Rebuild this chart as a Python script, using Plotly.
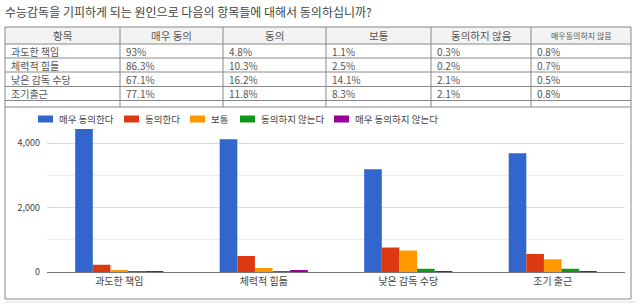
import plotly.graph_objects as go

title_text = "수능감독을 기피하게 되는 원인으로 다음의 항목들에 대해서 동의하십니까?"
categories = ["과도한 책임", "체력적 힘듦", "낮은 감독 수당", "조기 출근"]
series_names = ["매우 동의한다", "동의한다", "보통", "동의하지 않는다", "매우 동의하지 않는다"]
very_agree = [4436, 4118, 3190, 3688]
agree = [225, 496, 760, 560]
neutral = [52, 125, 665, 395]
disagree = [14, 10, 100, 100]
very_disagree = [20, 33, 24, 30]
colors = ["#3366cc", "#dc3912", "#ff9900", "#109618", "#990099"]

table_header = ["항목", "매우 동의", "동의", "보통", "동의하지 않음", "매우동의하지 않음"]
table_rows = [
    ["과도한 책임", "93%", "4.8%", "1.1%", "0.3%", "0.8%"],
    ["체력적 힘들", "86.3%", "10.3%", "2.5%", "0.2%", "0.7%"],
    ["낮은 감독 수당", "67.1%", "16.2%", "14.1%", "2.1%", "0.5%"],
    ["조기출근", "77.1%", "11.8%", "8.3%", "2.1%", "0.8%"],
]
y_ticks = [0, 2000, 4000]
y_ticklabels = ["0", "2,000", "4,000"]

# pixel layout helpers
W, H = 640, 307
L, R, T, B = 47, 625, 127, 272
def fx(x):
    return (x - L) / (R - L)
def fy(y):
    return (B - y) / (B - T)

series_values = [very_agree, agree, neutral, disagree, very_disagree]
fig = go.Figure()
for name, vals, col in zip(series_names, series_values, colors):
    fig.add_trace(go.Bar(x=categories, y=vals, name=name, marker_color=col,
                         marker_line_width=0, showlegend=False))

shapes = []
annotations = []
FONT = "Noto Sans CJK KR"
TXT = "#555555"

# title
annotations.append(dict(x=fx(3), y=fy(11), xref="paper", yref="paper", text=title_text,
                        showarrow=False, xanchor="left", yanchor="middle",
                        font=dict(family=FONT, size=12, color="#444")))

# outer box (table + chart cell)
shapes.append(dict(type="rect", xref="paper", yref="paper", x0=fx(5), x1=fx(631),
                   y0=fy(27), y1=fy(299), line=dict(color="#888", width=1)))
shapes.append(dict(type="line", xref="paper", yref="paper", x0=fx(5), x1=fx(636),
                   y0=fy(302), y1=fy(302), line=dict(color="#ddd", width=1)))
# header background
shapes.append(dict(type="rect", xref="paper", yref="paper", x0=fx(5), x1=fx(631),
                   y0=fy(27), y1=fy(44), fillcolor="#f3f3f3", line=dict(width=0), layer="below"))

col_edges = [5, 120, 223, 326, 431, 531, 631]
row_edges = [27, 44, 58, 72, 86.5, 100.5, 107]
for yy in row_edges[1:]:
    shapes.append(dict(type="line", xref="paper", yref="paper", x0=fx(5), x1=fx(631),
                       y0=fy(yy), y1=fy(yy), line=dict(color="#888", width=1)))
for xx in col_edges[1:-1]:
    shapes.append(dict(type="line", xref="paper", yref="paper", x0=fx(xx), x1=fx(xx),
                       y0=fy(27), y1=fy(107), line=dict(color="#888", width=1)))

# header text
for i, h in enumerate(table_header):
    cx = (col_edges[i] + col_edges[i + 1]) / 2
    annotations.append(dict(x=fx(cx), y=fy(35.5), xref="paper", yref="paper", text=h,
                            showarrow=False, xanchor="center", yanchor="middle",
                            font=dict(family=FONT, size=8 if i == 5 else 10.5, color=TXT)))
# body text
for r, row in enumerate(table_rows):
    cy = (row_edges[r + 1] + row_edges[r + 2]) / 2
    for i, v in enumerate(row):
        annotations.append(dict(x=fx(col_edges[i] + 4), y=fy(cy), xref="paper", yref="paper",
                                text=v, showarrow=False, xanchor="left", yanchor="middle",
                                height=13, valign="middle",
                                font=dict(family=FONT, size=10, color=TXT)))

# legend (manual)
leg_x = [38, 124, 190, 240, 334]
for name, col, lx in zip(series_names, colors, leg_x):
    shapes.append(dict(type="rect", xref="paper", yref="paper", x0=fx(lx), x1=fx(lx + 15),
                       y0=fy(122.5), y1=fy(115.5), fillcolor=col, line=dict(width=0)))
    annotations.append(dict(x=fx(lx + 19), y=fy(119), xref="paper", yref="paper", text=name,
                            showarrow=False, xanchor="left", yanchor="middle",
                            font=dict(family=FONT, size=9.5, color="#444")))

fig.update_layout(
    width=W, height=H,
    margin=dict(l=L, r=W - R, t=T, b=H - B, pad=0),
    paper_bgcolor="white", plot_bgcolor="white",
    barmode="group", bargap=0.39, bargroupgap=0,
    shapes=shapes, annotations=annotations,
    font=dict(family=FONT, color="#444"),
    xaxis=dict(showgrid=False, showline=True, linecolor="#777", linewidth=1,
               tickfont=dict(size=10, color="#444"), ticks="", fixedrange=True),
    yaxis=dict(range=[0, 4500], tickvals=y_ticks, ticktext=y_ticklabels,
               showgrid=True, gridcolor="#dcdcdc", zeroline=False,
               minor=dict(dtick=1000, showgrid=True, gridcolor="#eeeeee"),
               tickfont=dict(size=9, color="#444"), ticks="", ticklabelstandoff=6),
)

fig.write_html("out.html")
